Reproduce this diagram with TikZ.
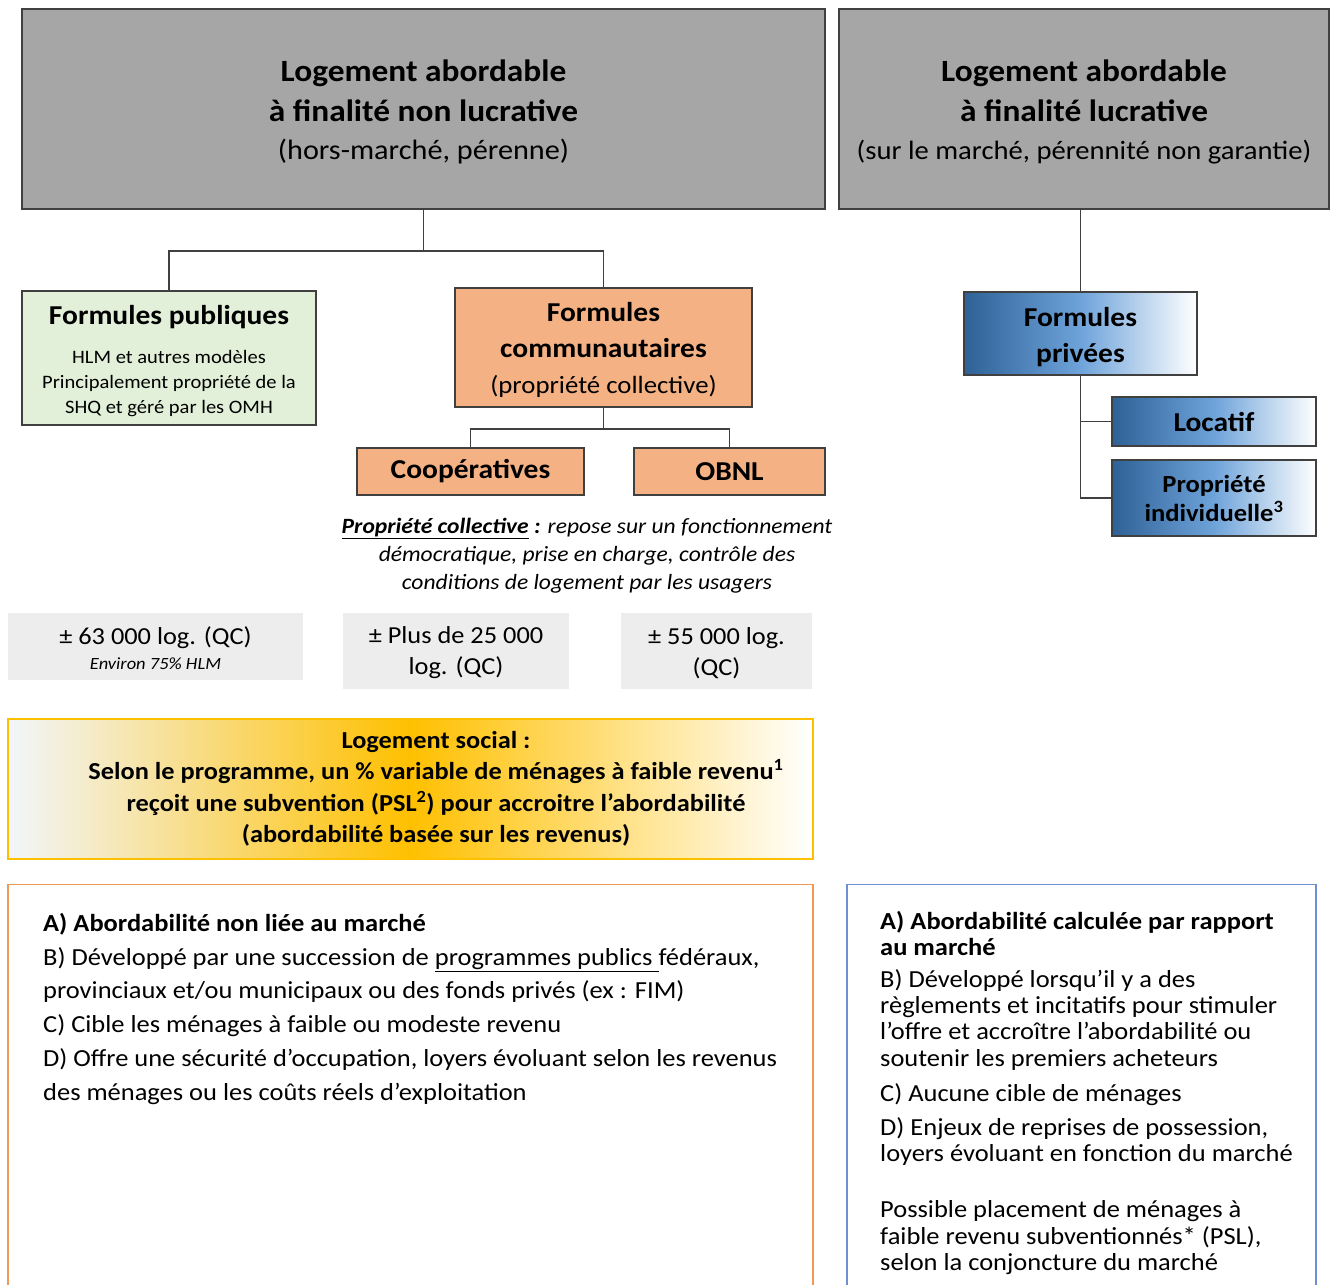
\documentclass[tikz,border=0pt]{standalone}
\usepackage{fontspec}
\setmainfont{Carlito}[FakeStretch=1.08]
\usetikzlibrary{calc}
\definecolor{bigGray}{HTML}{A6A6A6}
\definecolor{lineGray}{HTML}{404040}
\definecolor{pubGreen}{HTML}{E2F0D9}
\definecolor{comOrange}{HTML}{F4B183}
\definecolor{boxGray}{HTML}{EDEDED}
\definecolor{gold}{HTML}{FFC000}
\definecolor{paleBlue}{HTML}{F2F6FC}
\definecolor{darkBlue}{HTML}{2E6196}
\definecolor{midBlue}{HTML}{6EA3DA}
\definecolor{orangeLine}{HTML}{F0975A}
\definecolor{blueLine}{HTML}{6E8FD2}
\newcommand{\fs}[2]{\fontsize{#1}{#2}\selectfont}
\newcommand{\topgap}[1]{\rule{0pt}{0pt}\\[#1]}
\tikzset{
  boxbase/.style={draw=lineGray, line width=1.6pt, inner sep=0pt, align=center, text=black},
  bigbox/.style={boxbase, fill=bigGray, font=\fs{30.9}{40}},
  pubbox/.style={boxbase, fill=pubGreen},
  combox/.style={boxbase, fill=comOrange, font=\bfseries\fs{27.3}{36}},
  privbox/.style={boxbase, left color=darkBlue, right color=white, middle color=midBlue, font=\bfseries\fs{27.3}{36}},
  boxtext/.style={inner sep=0pt, align=center, text=black},
  graybox/.style={fill=boxGray, inner sep=0pt, align=center, font=\fs{24.4}{31}},
  conn/.style={draw=lineGray, line width=1.6pt},
  plaintext/.style={inner sep=0pt, align=left, anchor=north west, text=black}
}
\begin{document}
\begin{tikzpicture}[x=1pt, y=-1pt]
\useasboundingbox (0,0) rectangle (1331,1285);
\fill[white] (0,0) rectangle (1331,1285);

% top boxes
\node[bigbox, minimum width=803, minimum height=200] (L0) at (423.5,109)
  {\topgap{-13pt}\bfseries Logement abordable\\ \bfseries à finalité non lucrative\\[-2pt] \fs{28}{38}(hors-marché, pérenne)};
\node[bigbox, minimum width=490, minimum height=200] (R0) at (1084,109)
  {\topgap{-13pt}\bfseries Logement abordable\\ \bfseries à finalité lucrative\\[-2pt] \fs{26.5}{38}(sur le marché, pérennité non garantie)};

% second level
\node[pubbox, minimum width=294, minimum height=134] (pub) at (169,358) {};
\node[boxtext, font=\fs{19}{25}] (pubT) at ($(pub.center)+(0,3)$)
  {{\bfseries\fs{27.3}{34}Formules publiques}\\[14pt]
   HLM et autres modèles\\ Principalement propriété de la\\ SHQ et géré par les OMH};
\node[combox, minimum width=297, minimum height=119] (com) at (603.5,347.5) {};
\node[boxtext, font=\bfseries\fs{27.3}{36}] (comT) at ($(com.center)+(0,2)$)
  {Formules\\ communautaires\\ \mdseries\fs{24.8}{36}(propriété collective)};
\node[combox, minimum width=227, minimum height=47] (coop) at (470.5,471.5) {Coopératives};
\node[combox, minimum width=191, minimum height=47] (obnl) at (729.5,471.5) {OBNL};

\node[privbox, minimum width=233, minimum height=83] (priv) at (1080.5,333.5) {};
\node[boxtext, font=\bfseries\fs{27.3}{36}] (privT) at ($(priv.center)+(0,4)$) {Formules\\ privées};
\node[privbox, minimum width=204, minimum height=49] (loc) at (1214,421.5) {Locatif};
\node[privbox, font=\bfseries\fs{24.6}{29}, minimum width=204, minimum height=76] (prop) at (1214,498)
  {Propriété\\ individuelle\textsuperscript{3}};

% connectors
\draw[conn] (L0.south) -- ++(0,41) coordinate (j1);
\draw[conn] (j1) -| (pub.north);
\draw[conn] (j1) -| (com.north);
\draw[conn] (com.south) -- ++(0,21) coordinate (j2);
\draw[conn] (j2) -| (coop.north);
\draw[conn] (j2) -| (obnl.north);
\draw[conn] (priv.north |- R0.south) -- (priv.north);
\draw[conn] (priv.south) |- (prop.west);
\draw[conn] (priv.south |- loc.west) -- (loc.west);

% note
\node[inner sep=0pt, align=center, font=\itshape\fs{21.8}{28}] (note) at (587,556)
  {\underline{\bfseries Propriété collective} \textbf{:} repose sur un fonctionnement\\
   démocratique, prise en charge, contrôle des\\ conditions de logement par les usagers};

% gray boxes
\node[graybox, minimum width=295, minimum height=67] (g1) at (155.5,646.5)
  {\topgap{-10pt}± 63 000 log. (QC)\\[-6pt] {\itshape\fs{17.1}{20}Environ 75\% HLM}};
\node[graybox, minimum width=226, minimum height=76] (g2) at (456,651) {\topgap{-10pt}± Plus de 25 000\\ log. (QC)};
\node[graybox, minimum width=191, minimum height=76] (g3) at (716.5,651) {\topgap{-10pt}± 55 000 log.\\ (QC)};

% logement social
\node[draw=gold, line width=1.2pt, left color=paleBlue, right color=white, middle color=gold,
      minimum width=805, minimum height=140, inner sep=0pt] (soc) at (410.5,789) {};
\node[inner sep=0pt, align=center, font=\bfseries\fs{24.4}{31.5}] (socTxt) at (436,789)
  {Logement social :\\
   Selon le programme, un \% variable de ménages à faible revenu\textsuperscript{1}\\
   reçoit une subvention (PSL\textsuperscript{2}) pour accroitre l’abordabilité\\
   (abordabilité basée sur les revenus)};

% bottom boxes
\node[draw=orangeLine, line width=1.2pt, minimum width=805, minimum height=420, anchor=north, inner sep=0pt] (boxA) at (410.5,884) {};
\node[draw=blueLine, line width=1.2pt, minimum width=469, minimum height=420, anchor=north, inner sep=0pt] (boxB) at (1081.5,884) {};

\node[plaintext, font=\fs{24.5}{33.8}] (txtA) at (43,913)
  {\textbf{A) Abordabilité non liée au marché}\\
   B) Développé par une succession de \underline{programmes publics }fédéraux,\\
   provinciaux et/ou municipaux ou des fonds privés (ex : FIM)\\
   C) Cible les ménages à faible ou modeste revenu\\
   D) Offre une sécurité d’occupation, loyers évoluant selon les revenus\\
   des ménages ou les coûts réels d’exploitation};

\node[plaintext, font=\fs{24.5}{26.4}] (txtB) at (880,911)
  {\textbf{A) Abordabilité calculée par rapport}\\
   \textbf{au marché}\\[5pt]
   B) Développé lorsqu’il y a des\\
   règlements et incitatifs pour stimuler\\
   l’offre et accroître l’abordabilité ou\\
   soutenir les premiers acheteurs\\[9pt]
   C) Aucune cible de ménages\\[7pt]
   D) Enjeux de reprises de possession,\\
   loyers évoluant en fonction du marché\\[30pt]
   Possible placement de ménages à\\
   faible revenu subventionnés* (PSL),\\
   selon la conjoncture du marché};
\end{tikzpicture}
\end{document}
